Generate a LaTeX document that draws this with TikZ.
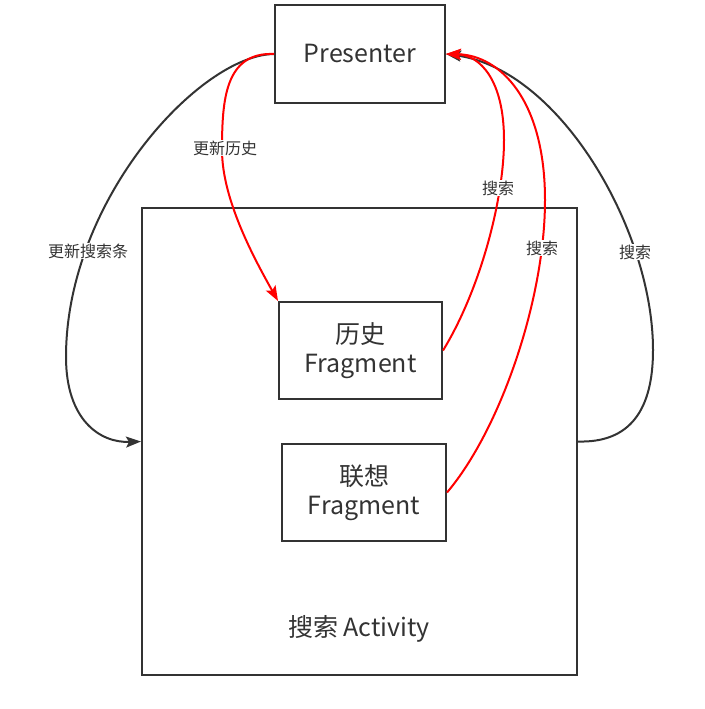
\documentclass[tikz,border=0pt]{standalone}
\usepackage{fontspec}
\setmainfont{Noto Sans CJK SC}
\usetikzlibrary{arrows.meta}
\definecolor{ink}{HTML}{333333}
\definecolor{rd}{HTML}{FF0000}
\tikzset{
  box/.style={draw=ink, line width=2pt, text=ink, align=center, font=\fontsize{25}{29}\selectfont, inner sep=0pt},
  lbl/.style={fill=white, text=ink, inner sep=1pt, font=\fontsize{16}{19}\selectfont},
  blk/.style={draw=ink, line width=2pt},
  redline/.style={draw=rd, line width=2pt},
  tip/.style={-{Stealth[length=15pt,width=11pt,inset=3pt]}}
}
\begin{document}
\begin{tikzpicture}[x=1pt,y=-1pt]
\useasboundingbox (0,0) rectangle (704,709);
\node[box, minimum width=170pt, minimum height=98pt] (P) at (360,54) {Presenter};
\node[box, minimum width=435pt, minimum height=467pt] (A) at (359.5,441.5) {};
\node[box, minimum width=163pt, minimum height=97pt] (F1) at (360.5,350.5) {历史\\Fragment};
\node[box, minimum width=164pt, minimum height=97pt] (F2) at (364,492.5) {联想\\Fragment};
\node[text=ink, font=\fontsize{25}{29}\selectfont, inner sep=0pt] (AT) at (359,629) {搜索 Activity};

% left black: update search bar
\draw[blk, tip] (P.west) .. controls (200,55) and (66,200) .. (66,357)
  .. controls (66,420) and (100,443) .. (A.west);
% red: update history
\draw[redline, tip] (P.west) .. controls (225,52) and (222,100) .. (222,150)
  .. controls (222,200) and (255,260) .. (F1.north west);
% right black: search from activity
\draw[blk, tip] (A.east) .. controls (630,443) and (653,410) .. (653,350)
  .. controls (653,230) and (560,70) .. (P.east);
% red: search from history fragment
\draw[redline, tip] (F1.east) .. controls (480,290) and (504,200) .. (504,140)
  .. controls (504,80) and (480,55) .. (P.east);
% red: search from association fragment
\draw[redline, tip] (F2.east) .. controls (500,430) and (545,300) .. (545,200)
  .. controls (545,100) and (500,55) .. (P.east);

\node[lbl] (L1) at (88,251) {更新搜索条};
\node[lbl] (L2) at (225,148) {更新历史};
\node[lbl] (L3) at (498,188) {搜索};
\node[lbl] (L4) at (542,248) {搜索};
\node[lbl] (L5) at (635,252) {搜索};
\end{tikzpicture}
\end{document}
